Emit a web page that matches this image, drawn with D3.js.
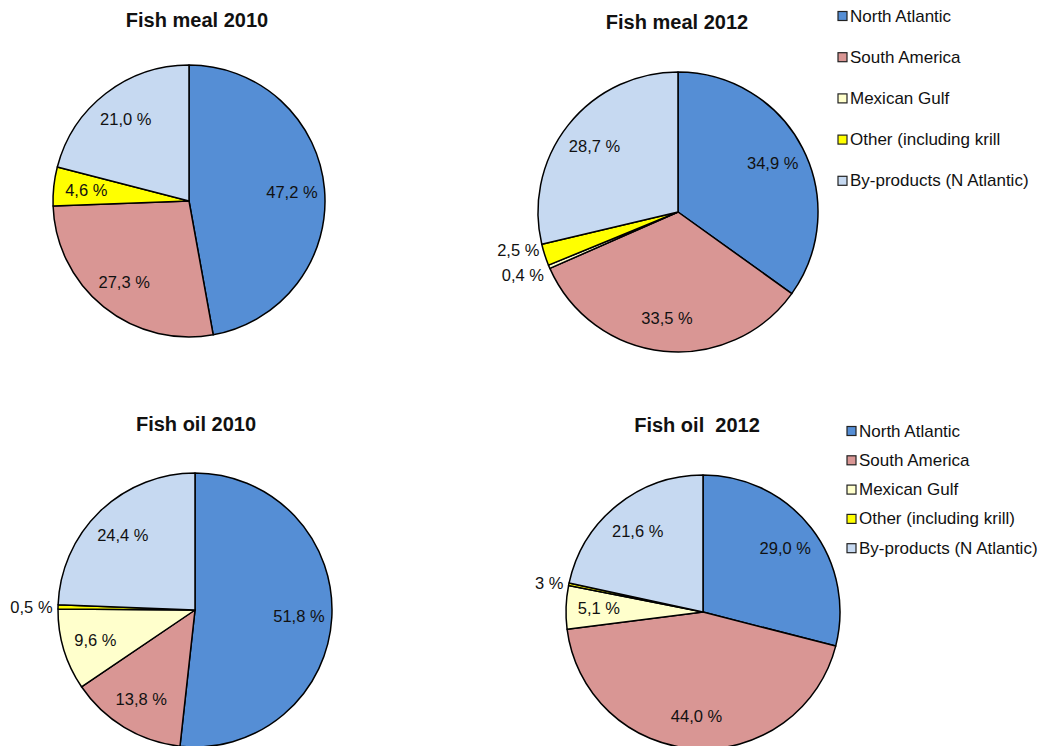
<!DOCTYPE html>
<html>
<head>
<meta charset="utf-8">
<script src="https://cdnjs.cloudflare.com/ajax/libs/d3/7.8.5/d3.min.js"></script>
<style>
  body { margin: 0; background: #fff; }
  svg { font-family: "Liberation Sans", Arial, sans-serif; }
  text { white-space: pre; }
</style>
</head>
<body>
<div id="chart"></div>
<script>
// categories, in legend / clockwise order
var categories = ["North Atlantic", "South America", "Mexican Gulf", "Other (including krill)", "By-products (N Atlantic)"];
var legendTop = ["North Atlantic", "South America", "Mexican Gulf", "Other (including krill", "By-products (N Atlantic)"];
var legendBottom = ["North Atlantic", "South America", "Mexican Gulf", "Other (including krill)", "By-products (N Atlantic)"];
var colors = ["#558ed5", "#d99694", "#ffffcc", "#ffff00", "#c6d9f1"];

// share of supply, percent
var meal2010 = [47.2, 27.3, 0, 4.6, 21.0];
var meal2012 = [34.9, 33.5, 0.4, 2.5, 28.7];
var oil2010 = [51.8, 13.8, 9.6, 0.5, 24.4];
var oil2012 = [29.0, 44.0, 5.1, 0.3, 21.6];

// printed labels
var meal2010Labels = ["47,2 %", "27,3 %", "", "4,6 %", "21,0 %"];
var meal2012Labels = ["34,9 %", "33,5 %", "0,4 %", "2,5 %", "28,7 %"];
var oil2010Labels = ["51,8 %", "13,8 %", "9,6 %", "0,5 %", "24,4 %"];
var oil2012Labels = ["29,0 %", "44,0 %", "5,1 %", "3 %", "21,6 %"];

var titles = ["Fish meal 2010", "Fish meal 2012", "Fish oil 2010", "Fish oil  2012"];

var width = 1042, height = 746;

var svg = d3.select("#chart").append("svg")
    .attr("width", width)
    .attr("height", height);

var color = d3.scaleOrdinal().domain(categories).range(colors);

// panel layout
var panels = [
    {values: meal2010, labels: meal2010Labels, title: titles[0], cx: 189, cy: 201, r: 136, tx: 197, ty: 27},
    {values: meal2012, labels: meal2012Labels, title: titles[1], cx: 678, cy: 212, r: 140, tx: 677, ty: 29},
    {values: oil2010, labels: oil2010Labels, title: titles[2], cx: 195, cy: 610, r: 137, tx: 196, ty: 431},
    {values: oil2012, labels: oil2012Labels, title: titles[3], cx: 703, cy: 612, r: 137, tx: 697, ty: 432}
];

var pie = d3.pie().sort(null).value(function(d) { return d.value; });

panels.forEach(function(p) {
    var data = categories.map(function(c, i) {
        return {category: c, value: p.values[i], label: p.labels[i]};
    }).filter(function(d) { return d.value > 0; });

    var arcs = pie(data);
    var arc = d3.arc().innerRadius(0).outerRadius(p.r);

    var g = svg.append("g")
        .attr("transform", "translate(" + p.cx + "," + p.cy + ")");

    g.selectAll("path")
        .data(arcs)
        .enter().append("path")
        .attr("d", arc)
        .attr("fill", function(d) { return color(d.data.category); })
        .attr("stroke", "#000")
        .attr("stroke-width", 1.5)
        .attr("stroke-linejoin", "round");

    // labels: inside for big slices, outside (right aligned) for tiny ones
    var inner = d3.arc().innerRadius(p.r * 0.76).outerRadius(p.r * 0.76);
    var outer = d3.arc().innerRadius(p.r * 1.04).outerRadius(p.r * 1.04);

    var labs = arcs.map(function(d) {
        var small = d.data.value < 3;
        var pos = small ? outer.centroid(d) : inner.centroid(d);
        return {text: d.data.label, x: pos[0], y: pos[1], small: small};
    });

    // push overlapping outside labels apart
    var outs = labs.filter(function(l) { return l.small; }).sort(function(a, b) { return a.y - b.y; });
    for (var k = 1; k < outs.length; k++) {
        var gap = outs[k].y - outs[k - 1].y;
        if (gap < 25) {
            var shift = (25 - gap) / 2;
            outs[k - 1].y -= shift;
            outs[k].y += shift;
        }
    }

    g.selectAll("text.value")
        .data(labs)
        .enter().append("text")
        .attr("class", "value")
        .attr("x", function(d) { return d.x; })
        .attr("y", function(d) { return d.y; })
        .attr("text-anchor", function(d) { return d.small ? "end" : "middle"; })
        .attr("dominant-baseline", "central")
        .attr("font-size", 16.5)
        .attr("fill", "#111")
        .text(function(d) { return d.text; });

    svg.append("text")
        .attr("x", p.tx)
        .attr("y", p.ty)
        .attr("text-anchor", "middle")
        .attr("font-size", 20)
        .attr("font-weight", "bold")
        .attr("fill", "#111")
        .text(p.title);
});

// legends
function drawLegend(labels, x, y0, step) {
    var lg = svg.append("g").attr("transform", "translate(" + x + "," + y0 + ")");
    var rows = lg.selectAll("g")
        .data(labels)
        .enter().append("g")
        .attr("transform", function(d, i) { return "translate(0," + (i * step) + ")"; });
    rows.append("rect")
        .attr("x", 0).attr("y", -4.5)
        .attr("width", 9).attr("height", 9)
        .attr("fill", function(d, i) { return colors[i]; })
        .attr("stroke", "#222")
        .attr("stroke-width", 1.2);
    rows.append("text")
        .attr("x", 12)
        .attr("y", 0)
        .attr("dominant-baseline", "central")
        .attr("font-size", 17)
        .attr("fill", "#111")
        .text(function(d) { return d; });
}

drawLegend(legendTop, 838, 16, 41.2);
drawLegend(legendBottom, 847, 431, 29.3);
</script>
</body>
</html>
